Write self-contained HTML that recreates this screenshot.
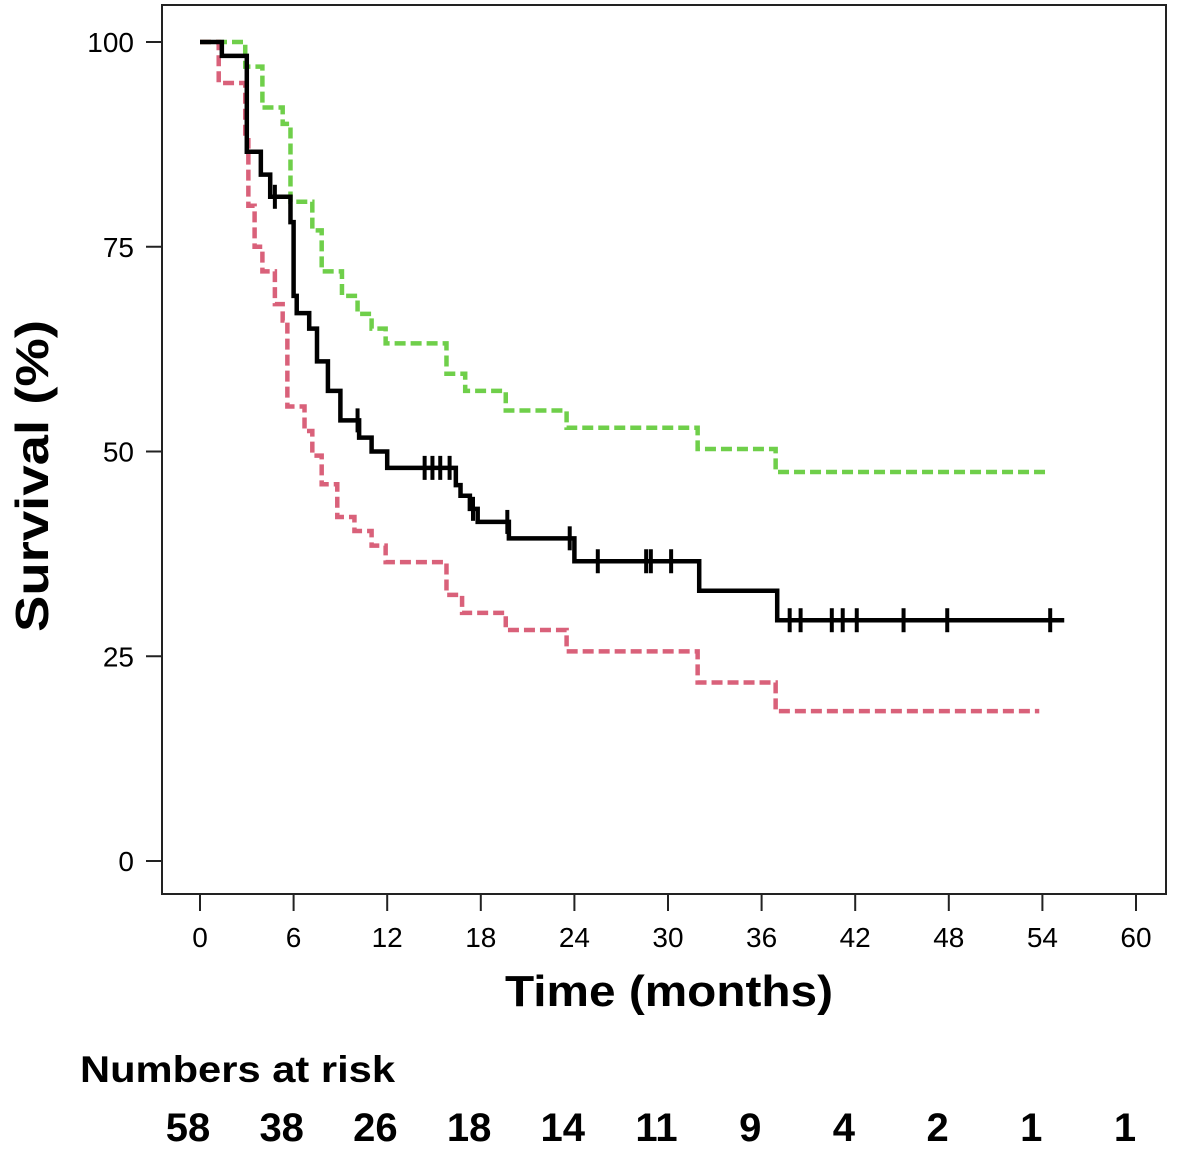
<!DOCTYPE html>
<html><head><meta charset="utf-8"><style>
html,body{margin:0;padding:0;background:#fff;}
svg{display:block;font-family:"Liberation Sans",Arial,sans-serif;}
</style></head><body>
<svg id="chart" width="1179" height="1154" viewBox="0 0 1179 1154" xmlns="http://www.w3.org/2000/svg">
<rect x="162" y="5" width="1004" height="889" fill="none" stroke="#222" stroke-width="2"/>
<g id="axes"></g>
<g id="series"></g>
<text x="48" y="476" transform="rotate(-90 48 476)" text-anchor="middle" font-weight="bold" font-size="46" textLength="312" lengthAdjust="spacingAndGlyphs">Survival (%)</text>
<text x="669" y="1006" text-anchor="middle" font-weight="bold" font-size="44" textLength="328" lengthAdjust="spacingAndGlyphs">Time (months)</text>
<text x="80" y="1082" font-weight="bold" font-size="37" textLength="315" lengthAdjust="spacingAndGlyphs">Numbers at risk</text>
<g id="risk"></g>
</svg>
<script>
const xTicks=[0,6,12,18,24,30,36,42,48,54,60];
const yTicks=[0,25,50,75,100];
const riskTimes=[0,6,12,18,24,30,36,42,48,54,60];
const riskCounts=[58,38,26,18,14,11,9,4,2,1,1];
const blackT=[0,1.4,3.0,3.9,4.5,5.8,6.0,6.2,7.0,7.5,8.2,9.0,10.2,11.0,12.0,16.4,16.7,17.3,17.8,19.8,24.0,32.0,37.0];
const blackS=[100,98.3,86.6,83.8,81.1,78,69,66.9,65,61,57.4,53.8,51.7,50,48,45.9,44.6,43,41.4,39.4,36.6,33.0,29.4];
const blackEnd=55.4;
const blackCensor=[4.8,10.1,14.4,14.9,15.4,16.0,17.5,19.7,23.7,25.5,28.6,28.9,30.2,37.8,38.5,40.5,41.2,42.1,45.1,47.9,54.5];
const greenT=[0,2.9,4.0,5.3,5.8,7.2,7.8,9.1,10.1,11.0,11.9,15.8,17.0,19.6,23.5,31.9,36.9];
const greenS=[100,97,92,90,80.5,77,72,69,66.8,65,63.2,59.5,57.4,55,52.9,50.3,47.5];
const greenEnd=54.3;
const redT=[0,1.2,2.9,3.1,3.5,4.0,4.8,5.3,5.6,6.7,7.2,7.8,8.8,9.9,11.0,11.9,15.8,16.8,19.6,23.5,31.9,36.9];
const redS=[100,95,88,80,75,72,68,66,55.5,52.5,49.5,46,42,40.3,38.5,36.5,32.5,30.3,28.2,25.6,21.8,18.3];
const redEnd=53.8;

const NS="http://www.w3.org/2000/svg";
const X=t=>200+t*(936/60);
const Y=s=>861-s*8.19;
function mk(tag,attrs,parent){const e=document.createElementNS(NS,tag);for(const k in attrs)e.setAttribute(k,attrs[k]);parent.appendChild(e);return e;}
const axes=document.getElementById('axes');
xTicks.forEach(t=>{
  const l=mk('line',{x1:X(t),x2:X(t),y1:894,y2:911,stroke:'#222','stroke-width':2},axes);
  
  
  const tx=mk('text',{x:X(t),y:947,'text-anchor':'middle','font-size':28},axes);
  tx.textContent=t;
  
  
});
yTicks.forEach(s=>{
  const l=mk('line',{x1:146,x2:162,y1:Y(s),y2:Y(s),stroke:'#222','stroke-width':2},axes);
  
  
  const tx=mk('text',{x:134,y:Y(s)+10,'text-anchor':'end','font-size':28},axes);
  tx.textContent=s;
  
  
});
function stepPath(T,S,end){
  let d='M'+X(T[0])+','+Y(S[0]);
  for(let i=1;i<T.length;i++){d+=' H'+X(T[i])+' V'+Y(S[i]);}
  d+=' H'+X(end);return d;
}
function levelAt(T,S,t){let v=S[0];for(let i=0;i<T.length;i++){if(T[i]<=t)v=S[i];}return v;}
const ser=document.getElementById('series');
const g=mk('path',{d:stepPath(greenT,greenS,greenEnd),fill:'none',stroke:'#6fcf4a','stroke-width':4.5,'stroke-dasharray':'11 5'},ser);


const r=mk('path',{d:stepPath(redT,redS,redEnd),fill:'none',stroke:'#d9617a','stroke-width':4.5,'stroke-dasharray':'11 5'},ser);


const b=mk('path',{d:stepPath(blackT,blackS,blackEnd),fill:'none',stroke:'#000','stroke-width':4.5},ser);


blackCensor.forEach(t=>{
  const y=Y(levelAt(blackT,blackS,t));
  const c=mk('line',{x1:X(t),x2:X(t),y1:y-12,y2:y+12,stroke:'#000','stroke-width':4},ser);
  
  
});
const risk=document.getElementById('risk');
const riskLeft=188, riskRight=1125;
riskTimes.forEach((t,i)=>{
  const tx=mk('text',{x:riskLeft+(riskRight-riskLeft)*t/60,y:1141,'text-anchor':'middle','font-size':40,'font-weight':'bold'},risk);
  tx.textContent=riskCounts[i];
  
  
});
</script>
</body></html>
